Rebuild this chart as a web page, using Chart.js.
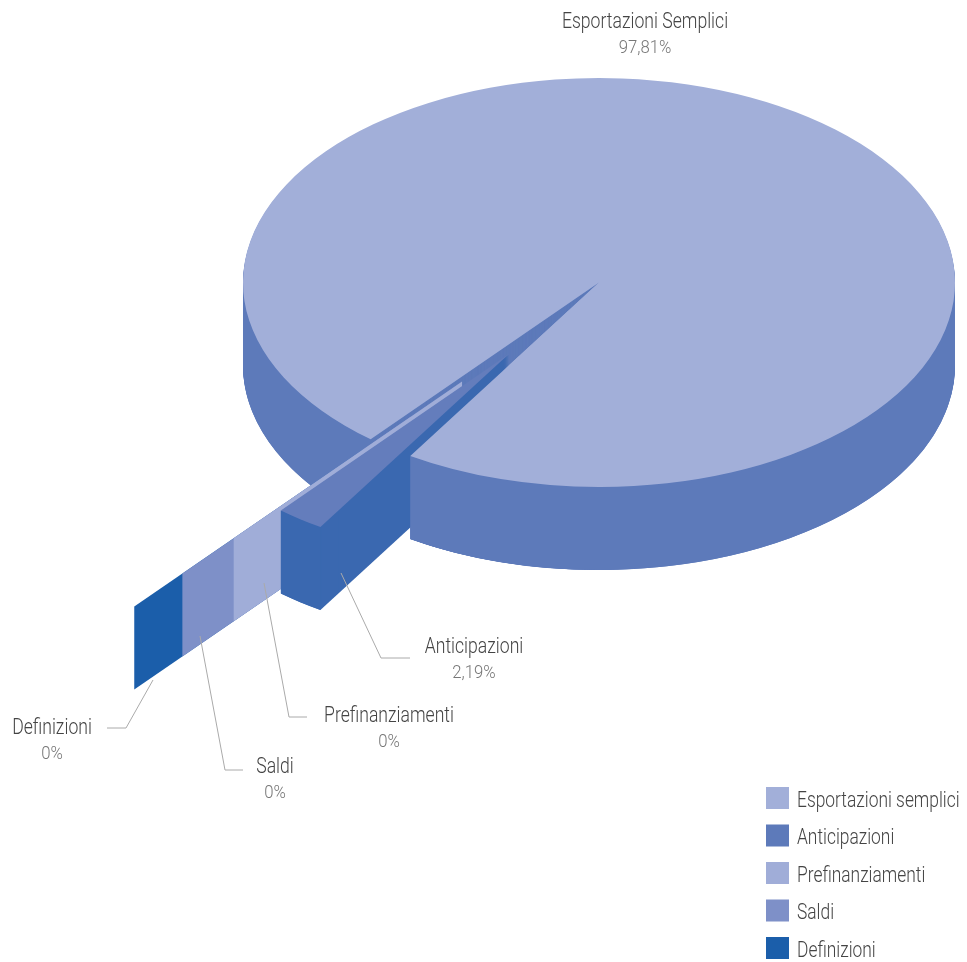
<!DOCTYPE html>
<html><head><meta charset="utf-8">
<style>html,body{margin:0;padding:0;background:#fff}canvas{display:block}</style>
<script src="https://cdn.jsdelivr.net/npm/chart.js@4"></script>
</head><body><canvas id="c" width="967" height="962"></canvas>
<script>
const categories = ['Esportazioni semplici','Anticipazioni','Prefinanziamenti','Saldi','Definizioni'];
const calloutNames = ['Esportazioni Semplici','Anticipazioni','Prefinanziamenti','Saldi','Definizioni'];
const values = [97.81,2.19,0,0,0];
const topColors = ['#A2AFD9','#5D7ABA','#A0ADD8','#7E90C8','#1B5EAA'];
const faceColors = ['#A2AFD9','#647DBC','#A0ADD8','#7E90C8','#1B5EAA'];
const wallColors = ['#5D7ABA','#3A68B0','#A0ADD8','#7E90C8','#1B5EAA'];
const explode = [0,153,220,300,375];
const calloutAnchors = [[645,22],[474,647],[389,716],[275,767],[52,728]];
const leaders = [null,[[341,573],[381,658],[410,658]],[[264,583],[289,717],[307,717]],[[200,636],[225,770],[243,770]],[[153,680],[126,728],[107,728]]];
const squash = 0.5744, centerY = 282.5, depth = 83, bandDrift = -1.4*Math.PI/180;
const FONT = 'Roboto,"Liberation Sans",sans-serif';
let textStyle = {sx:0.79,dx:-3,dy:3};

function artOptions(color){
  return {backgroundColor:color,borderColor:color,borderWidth:0,offset:0,spacing:0,borderRadius:0,borderAlign:'center',circular:true,borderDash:[],borderDashOffset:0};
}
function drawFace(ctx, el, color, ox, oy, dz, startAngle){
  const a = Object.create(el);
  a.options = artOptions(color);
  if (startAngle !== undefined){ a.startAngle = startAngle; a.circumference = el.endAngle - startAngle; }
  ctx.save();
  ctx.translate(ox, centerY + oy*squash + dz);
  ctx.scale(1, squash);
  ctx.translate(0, -el.y);
  a.draw(ctx);
  ctx.restore();
}
function drawOuterBand(ctx, el, color, ox, oy, s0){
  const r = el.outerRadius, cx = el.x + ox, cy = centerY + oy*squash;
  ctx.fillStyle = color;
  [0, 2*Math.PI].forEach(base=>{
    const a = Math.max(s0, base), b = Math.min(el.endAngle, base + Math.PI);
    if (b <= a) return;
    ctx.beginPath();
    ctx.ellipse(cx, cy, r, r*squash, 0, a, b);
    ctx.ellipse(cx, cy + depth, r, r*squash, 0, b, a, true);
    ctx.closePath();
    ctx.fill();
  });
}
function drawSolid(ctx, el, i, startAngle){
  const mid = (el.startAngle + el.endAngle)/2;
  const ox = Math.cos(mid)*explode[i], oy = Math.sin(mid)*explode[i];
  for (let d = depth; d >= 1; d--) drawFace(ctx, el, wallColors[i], ox, oy, d, startAngle);
  drawOuterBand(ctx, el, wallColors[i], ox, oy, startAngle === undefined ? el.startAngle : startAngle);
  drawFace(ctx, el, faceColors[i], ox, oy, 0, startAngle);
}
// Zero-value slices have no sweep, only a wall along their ray, each pushed further along it.
function drawZeroWall(ctx, el, i, firstZero){
  const a = el.startAngle, c = Math.cos(a), s = Math.sin(a)*squash;
  const L = el.outerRadius;
  const along = explode[i] - explode[firstZero];
  const x0 = el.x + Math.cos(a + bandDrift)*explode[firstZero] + c*along;
  const y0 = centerY + Math.sin(a + bandDrift)*explode[firstZero]*squash + s*along;
  ctx.fillStyle = wallColors[i];
  ctx.beginPath();
  ctx.moveTo(x0, y0);
  ctx.lineTo(x0 + c*L, y0 + s*L);
  ctx.lineTo(x0 + c*L, y0 + s*L + depth);
  ctx.lineTo(x0, y0 + depth);
  ctx.closePath();
  ctx.fill();
}
const pie3d = {
  id:'pie3d',
  beforeDraw(chart){
    const ctx = chart.ctx;
    if (!ctx.__narrow){
      const raw = ctx.fillText;
      ctx.fillText = function(t, x, y){
        this.save();
        this.translate(x + textStyle.dx, y + textStyle.dy);
        this.scale(textStyle.sx, 1);
        raw.call(this, t, 0, 0);
        this.restore();
      };
      ctx.__narrow = true;
    }
    textStyle = {sx:0.79,dx:-3,dy:3};
  },
  afterUpdate(chart){
    const lg = chart.legend;
    const p = lg.options.labels.padding;
    lg.left = 766 - p; lg.top = 787 - p; lg.right = 1100; lg.bottom = 1100;
    lg.width = lg.right - lg.left; lg.height = lg.bottom - lg.top;
  },
  beforeDatasetsDraw(chart){
    const ctx = chart.ctx, els = chart.getDatasetMeta(0).data;
    drawSolid(ctx, els[0], 0);
    for (let i = els.length-1; i >= 2; i--) drawZeroWall(ctx, els[i], i, 2);
    drawSolid(ctx, els[1], 1);
    drawSolid(ctx, els[0], 0, 2*Math.PI + Math.PI/2);
    return false;
  },
  afterDraw(chart){
    const ctx = chart.ctx;
    ctx.save();
    ctx.textAlign = 'center'; ctx.textBaseline = 'middle';
    calloutNames.forEach((n,i)=>{
      const [x,y] = calloutAnchors[i];
      textStyle = {sx:0.80,dx:0,dy:0};
      ctx.fillStyle = '#444'; ctx.font = '300 22px '+FONT; ctx.fillText(n, x, y);
      textStyle = {sx:0.93,dx:0,dy:0};
      ctx.fillStyle = '#777'; ctx.font = '300 18px '+FONT;
      ctx.fillText(String(values[i]).replace('.',',')+'%', x, y+26);
      const l = leaders[i];
      if (l){
        ctx.strokeStyle = '#aaa'; ctx.lineWidth = 1; ctx.beginPath();
        l.forEach((p,j)=> j ? ctx.lineTo(p[0],p[1]) : ctx.moveTo(p[0],p[1]));
        ctx.stroke();
      }
    });
    ctx.restore();
  }
};
new Chart(document.getElementById('c'),{
  type:'pie',
  data:{labels:categories,datasets:[{data:values,backgroundColor:topColors,borderWidth:0,hoverOffset:0}]},
  options:{
    responsive:false,animation:false,
    rotation:219.9,
    layout:{padding:{left:243,right:12,top:125,bottom:125}},
    plugins:{
      tooltip:{enabled:false},
      legend:{position:'chartArea',align:'start',
        labels:{boxWidth:23,boxHeight:22,padding:15.5,color:'#444',font:{family:FONT,size:22,weight:'300'}}}
    }
  },
  plugins:[pie3d]
});
</script></body></html>
